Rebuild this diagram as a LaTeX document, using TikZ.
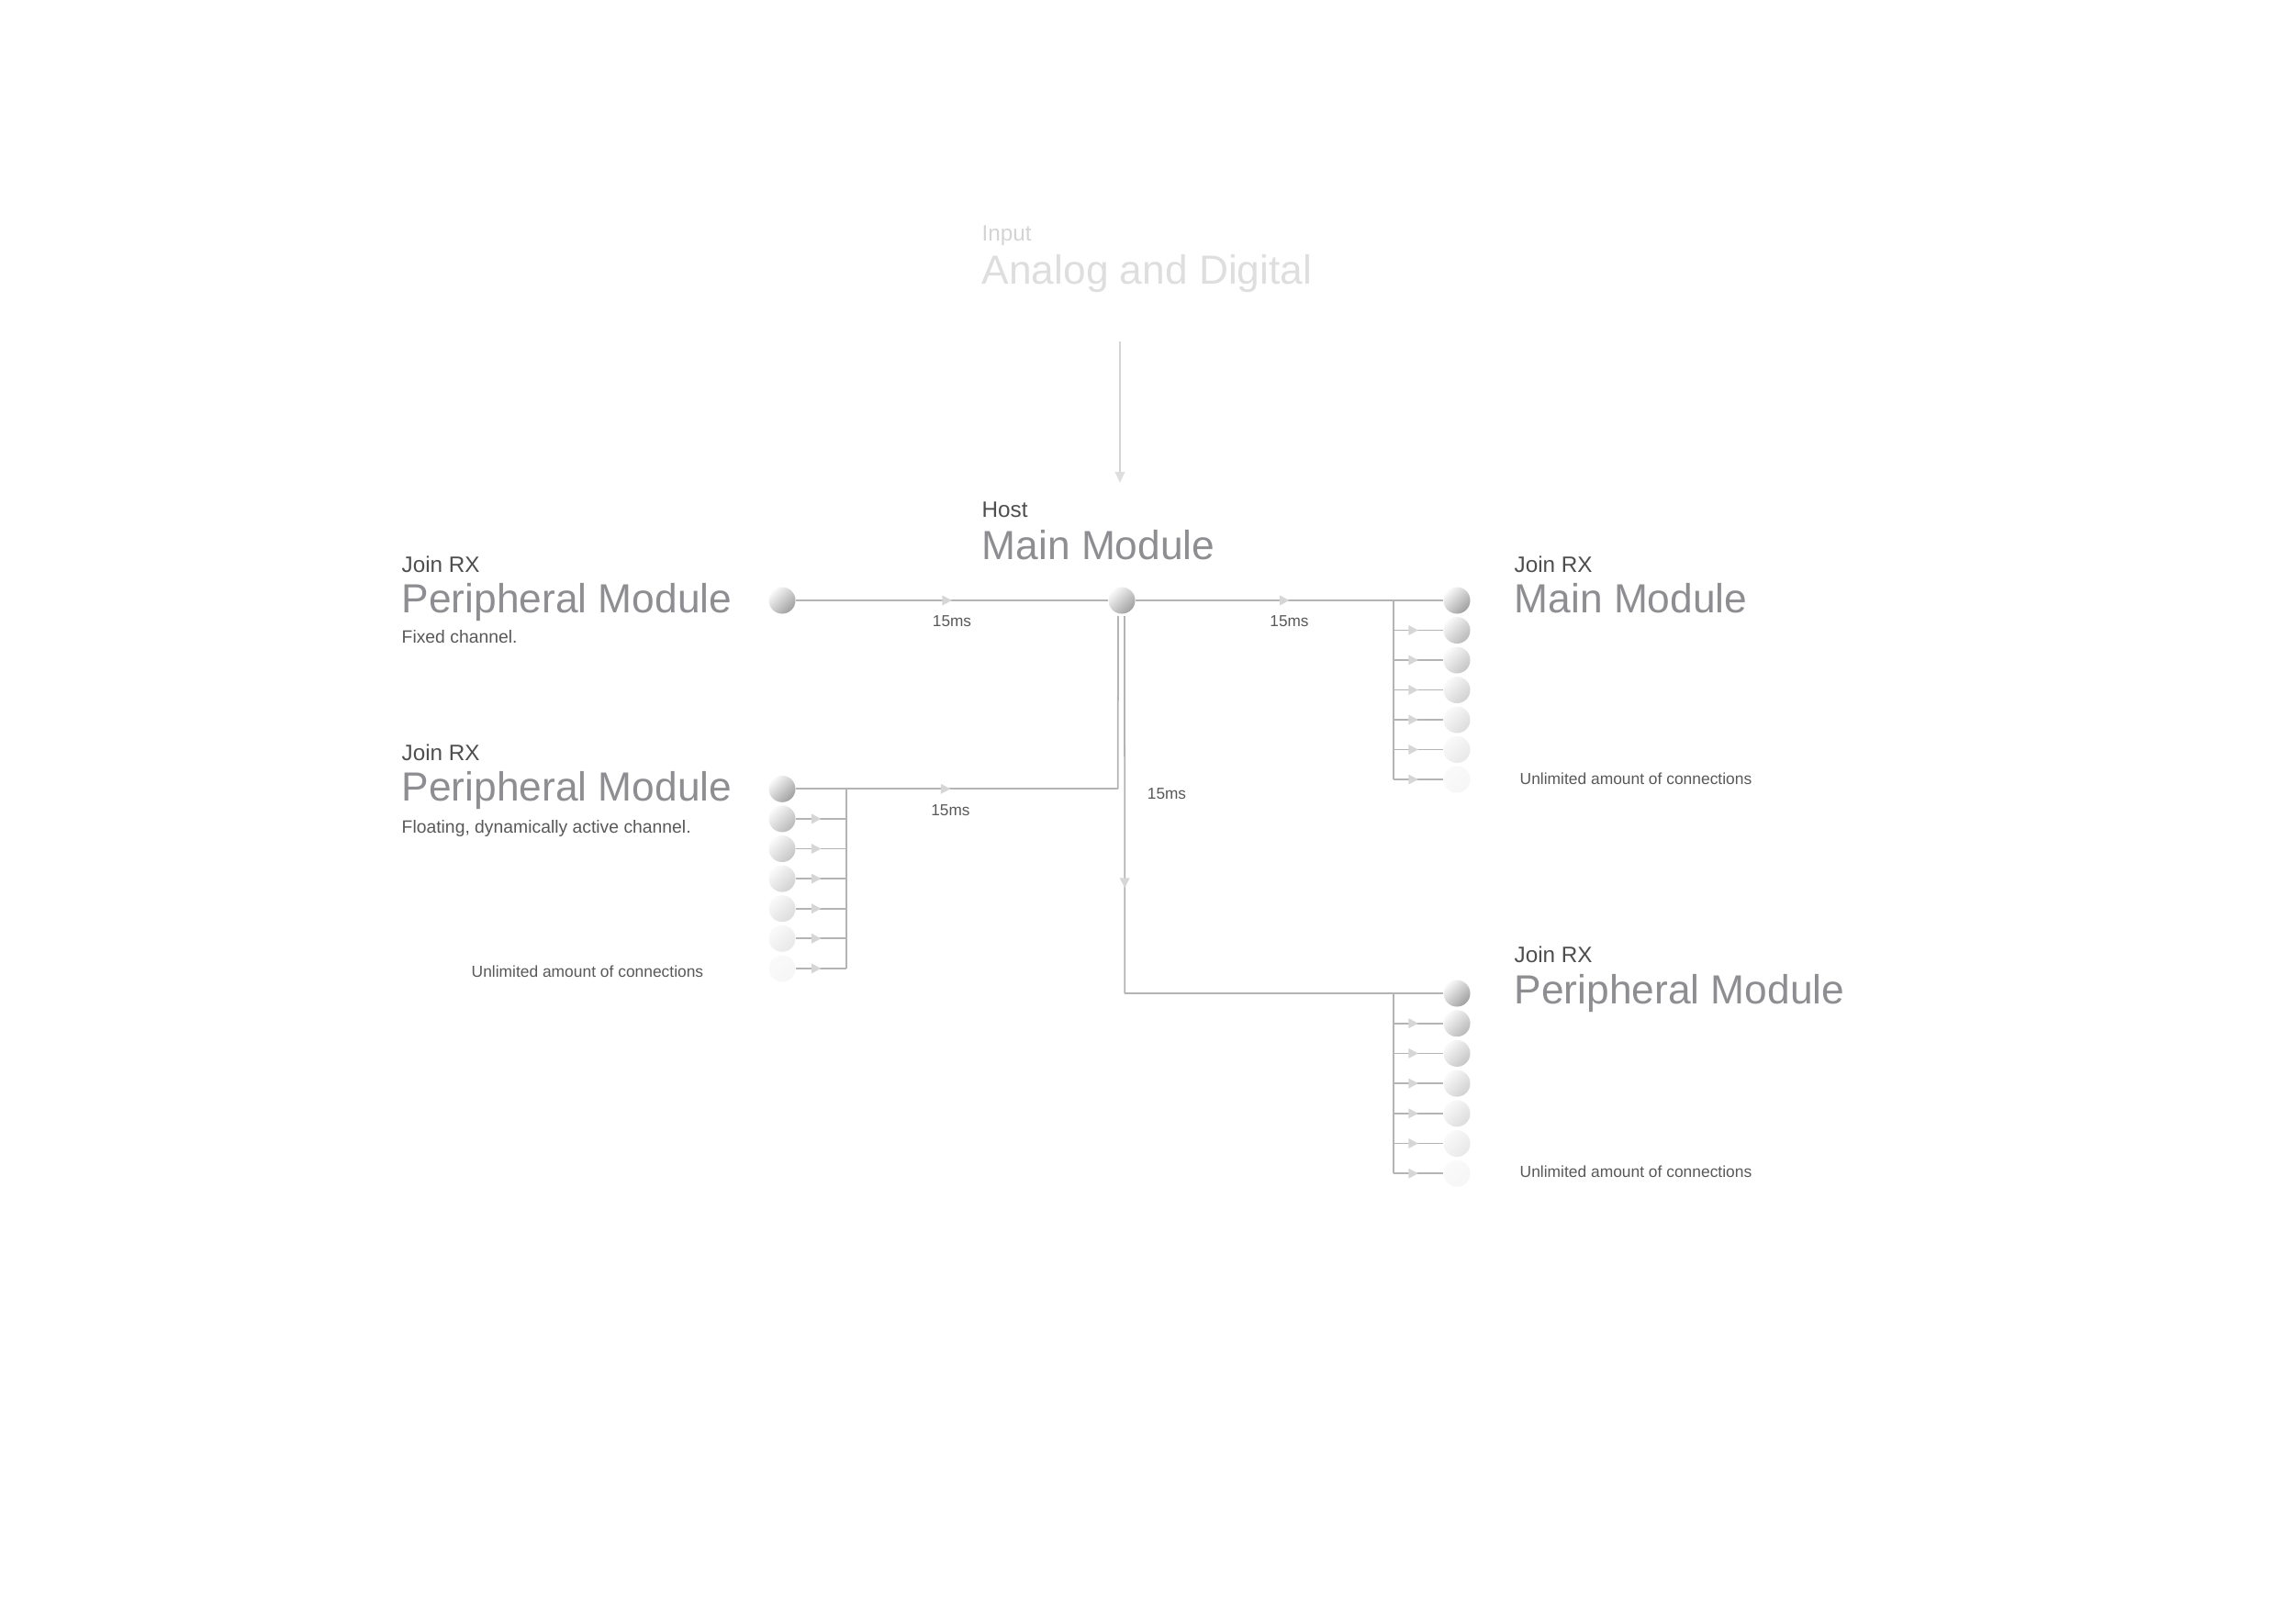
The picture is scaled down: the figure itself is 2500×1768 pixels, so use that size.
\documentclass[tikz,border=0pt]{standalone}
\usepackage{fontspec}
\setmainfont{Liberation Sans}
\usetikzlibrary{arrows.meta,decorations.markings,calc}

\definecolor{titlegray}{HTML}{8E8E92}
\definecolor{headgray}{HTML}{4E4E4E}
\definecolor{notegray}{HTML}{585858}
\definecolor{inputgray}{HTML}{D4D4D4}
\definecolor{inputlight}{HTML}{DEDEDE}
\definecolor{linegray}{HTML}{B4B4B4}
\definecolor{tipgray}{HTML}{D6D6D6}

\begin{document}
\begin{tikzpicture}[x=0.01cm,y=-0.01cm,
  big/.style={inner sep=0pt,anchor=base west,text=titlegray,font=\fontsize{12.6}{14}\selectfont},
  head/.style={inner sep=0pt,anchor=base west,text=headgray,font=\fontsize{6.9}{8}\selectfont},
  note/.style={inner sep=0pt,anchor=base west,text=notegray,font=\fontsize{5.5}{7}\selectfont},
  tiny/.style={inner sep=0pt,anchor=base west,text=notegray,font=\fontsize{4.95}{6}\selectfont},
  ms/.style={inner sep=0pt,text=notegray,font=\fontsize{4.9}{6}\selectfont},
  ball/.style={circle,inner sep=0pt,minimum size=2.9mm,top color=black!2,bottom color=gray!#1,shading angle=45},
  line/.style={draw=linegray,line width=0.5pt},
  flow/.style={postaction={decorate,decoration={markings,
    mark=at position #1 with {\arrow{Triangle[length=3pt,width=3pt,color=tipgray]}}}}},
  flow/.default=0.5]
\useasboundingbox (0,0) rectangle (2500,1768);

% Input
\node[head,text=inputgray] (inlbl) at (1069,262) {Input};
\node[big,text=inputlight] (analog) at (1069,309) {Analog and Digital};
\coordinate (inTop) at (1220,372);
\coordinate (inEnd) at (1220,526);
\draw[draw=inputgray,line width=0.5pt,-{Triangle[length=3.4pt,width=3pt,color=inputlight]}] (inTop) -- (inEnd);

% Host
\node[head] (hostlbl) at (1069,563) {Host};
\node[big] (hostttl) at (1069,609) {Main Module};
\node[ball=75] (host) at (1222,654) {};
\coordinate (hostL) at ($(host.south)+(-4,2)$);
\coordinate (hostR) at ($(host.south)+(3,2)$);

% Fixed peripheral (top left)
\node[head] (fixhead) at (437,623) {Join RX};
\node[big] (fixttl) at (437,667) {Peripheral Module};
\node[note] (fixnote) at (437,700) {Fixed channel.};
\node[ball=75] (fixed) at (852,654) {};
\draw[line,flow] (fixed) -- node[ms,below=4.6pt] {15ms} (host);

% Main module group (top right)
\node[head] (mainhead) at (1649,623) {Join RX};
\node[big] (mainttl) at (1649,667) {Main Module};
\node[tiny] (mainnote) at (1655,854) {Unlimited amount of connections};
\foreach \i/\s in {0/75,1/55,2/45,3/36,4/27,5/18,6/7}
  \node[ball=\s] (rm\i) at (1587,654+32.5*\i) {};
\foreach \i in {0,...,6}
  \coordinate (rb\i) at (1518,654+32.5*\i);
\draw[line,flow] (host) -- node[ms,below=4.6pt] {15ms} (rm0);
\draw[line] (rb0) -- (rb6);
\foreach \i in {1,...,6}
  \draw[line,flow] (rb\i) -- (rm\i);

% Floating peripheral group (left)
\node[head] (flohead) at (437,828) {Join RX};
\node[big] (flottl) at (437,872) {Peripheral Module};
\node[note] (flonote) at (437,907) {Floating, dynamically active channel.};
\node[tiny] (flounl) at (513,1064) {Unlimited amount of connections};
\foreach \i/\s in {0/75,1/55,2/45,3/36,4/27,5/18,6/7}
  \node[ball=\s] (lp\i) at (852,859.3+32.6*\i) {};
\foreach \i in {0,...,6}
  \coordinate (lb\i) at (921.7,859.3+32.6*\i);
\coordinate (elbowL) at (1217.7,859.3);
\draw[line,flow=0.48] (lp0) -- node[ms,pos=0.48,below=4.6pt] {15ms} (elbowL);
\draw[line] (elbowL) -- (hostL);
\draw[line] (lb0) -- (lb6);
\foreach \i in {1,...,6}
  \draw[line,flow] (lp\i) -- (lb\i);

% Peripheral group (bottom right)
\node[head] (perhead) at (1649,1048) {Join RX};
\node[big] (perttl) at (1649,1093) {Peripheral Module};
\node[tiny] (perunl) at (1655,1282) {Unlimited amount of connections};
\foreach \i/\s in {0/75,1/55,2/45,3/36,4/27,5/18,6/7}
  \node[ball=\s] (pr\i) at (1587,1082+32.7*\i) {};
\foreach \i in {0,...,6}
  \coordinate (pb\i) at (1518,1082+32.7*\i);
\coordinate (elbowR) at (1225.3,1082);
\draw[line,flow=0.72] (hostR) -- node[ms,pos=0.47,right=6.8pt] {15ms} (elbowR);
\draw[line] (elbowR) -- (pr0);
\draw[line] (pb0) -- (pb6);
\foreach \i in {1,...,6}
  \draw[line,flow] (pb\i) -- (pr\i);

\end{tikzpicture}
\end{document}
